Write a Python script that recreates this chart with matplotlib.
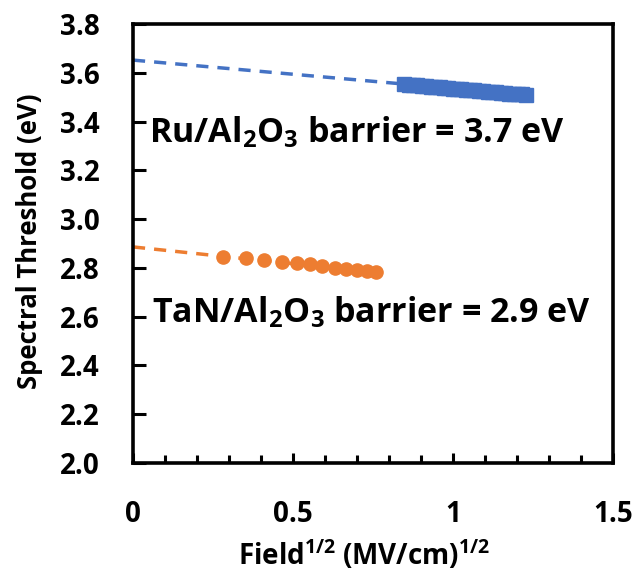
import numpy as np
import matplotlib.pyplot as plt

plt.rcParams['font.family'] = ['Open Sans', 'DejaVu Sans']
plt.rcParams['font.weight'] = 'bold'
plt.rcParams['mathtext.fontset'] = 'custom'
plt.rcParams['mathtext.bf'] = 'Open Sans:bold'
plt.rcParams['mathtext.rm'] = 'Open Sans:bold'
plt.rcParams['mathtext.it'] = 'Open Sans:bold'

# Ru/Al2O3 data (blue squares)
ru_x = [0.848, 0.862, 0.876, 0.889, 0.903, 0.917, 0.930, 0.944, 0.958, 0.971,
        0.985, 0.999, 1.012, 1.026, 1.040, 1.053, 1.067, 1.081, 1.094, 1.108,
        1.122, 1.135, 1.149, 1.163, 1.176, 1.190, 1.203, 1.216, 1.229]
ru_y = [3.552, 3.551, 3.549, 3.548, 3.546, 3.545, 3.543, 3.541, 3.540, 3.539,
        3.537, 3.535, 3.534, 3.532, 3.531, 3.529, 3.528, 3.526, 3.525, 3.523,
        3.521, 3.520, 3.518, 3.517, 3.515, 3.514, 3.512, 3.511, 3.509]
ru_fit = (3.652, -0.116)   # intercept, slope

# TaN/Al2O3 data (orange circles)
tan_x = [0.281, 0.352, 0.408, 0.465, 0.511, 0.552, 0.592, 0.630, 0.667, 0.700, 0.730, 0.758]
tan_y = [2.844, 2.840, 2.834, 2.826, 2.820, 2.814, 2.806, 2.801, 2.795, 2.790, 2.786, 2.783]
tan_fit = (2.886, -0.138)

blue = '#4472C4'
orange = '#ED7D31'

fig = plt.figure(figsize=(6.37, 5.83), dpi=100)
ax = fig.add_axes([133/637, 1 - 463/583, 480/637, 439/583])

xf = np.array([0, ru_x[-1]])
ax.plot(xf, ru_fit[0] + ru_fit[1]*xf, '--', color=blue, lw=2.5, dashes=(3.5, 2.6))
ax.plot(ru_x, ru_y, 's', color=blue, ms=10.5, mec=blue)

xf = np.array([0, tan_x[-1]])
ax.plot(xf, tan_fit[0] + tan_fit[1]*xf, '--', color=orange, lw=2.5, dashes=(3.5, 2.6))
ax.plot(tan_x, tan_y, 'o', color=orange, ms=9.5)

ax.set_xlim(0, 1.5)
ax.set_ylim(2.0, 3.8)
ax.set_xticks([0, 0.5, 1, 1.5])
ax.set_xticklabels(['0', '0.5', '1', '1.5'])
ax.set_xticks(np.arange(0.1, 1.45, 0.1), minor=True)
ax.set_yticks(np.arange(2.0, 3.81, 0.2))
ax.set_yticklabels(['%.1f' % v for v in np.arange(2.0, 3.81, 0.2)])

ax.tick_params(axis='x', which='major', direction='in', length=7, width=2.2, pad=27, labelsize=20)
ax.tick_params(axis='x', which='minor', direction='in', length=6, width=2.2)
ax.tick_params(axis='y', direction='in', length=9, width=2.2, pad=24, labelsize=20)
for lab in ax.get_xticklabels() + ax.get_yticklabels():
    lab.set_fontweight('bold')
for s in ax.spines.values():
    s.set_linewidth(2.6)

ax.set_xlabel(r'Field$^{1/2}$ (MV/cm)$^{1/2}$', fontsize=20, fontweight='bold')
ax.xaxis.set_label_coords(0.48, -0.172)
ax.set_ylabel('Spectral Threshold (eV)', fontsize=18.5, fontweight='bold')
ax.yaxis.set_label_coords(-0.187, 0.505)

ax.text(0.05, 3.316, r'Ru/Al$_2$O$_3$ barrier = 3.7 eV', fontsize=24.5, fontweight='bold',
        va='baseline', ha='left')
ax.text(0.06, 2.578, r'TaN/Al$_2$O$_3$ barrier = 2.9 eV', fontsize=24.5, fontweight='bold',
        va='baseline', ha='left')

fig.savefig('out.png', dpi=100)
